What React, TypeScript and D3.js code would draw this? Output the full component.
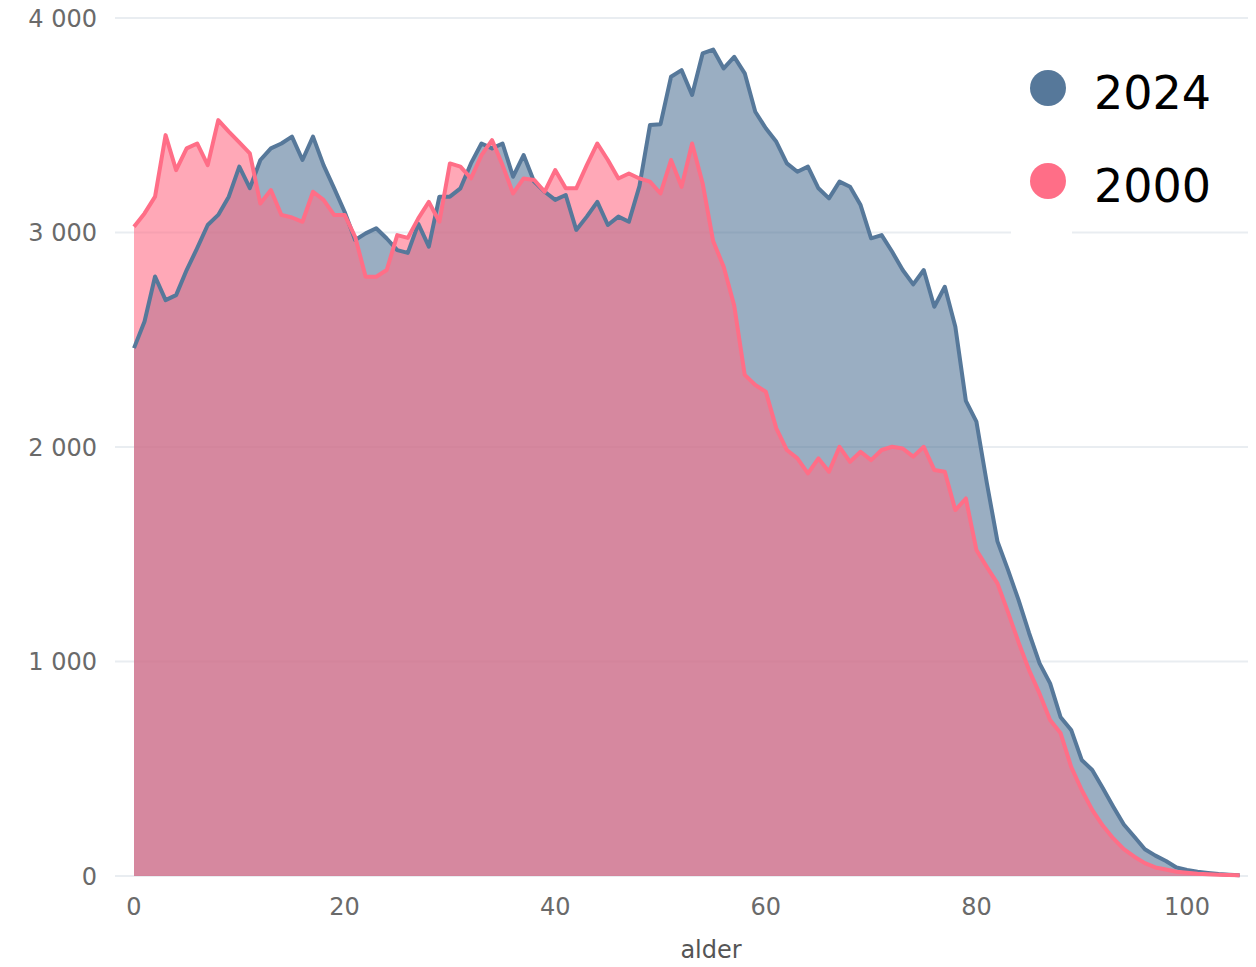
import React from "react";
import * as d3 from "d3";

// population by age (alder)
const pop2024 = [
  2461, 2585, 2795, 2685, 2708, 2825, 2927, 3035, 3082, 3167,
  3307, 3207, 3338, 3392, 3415, 3447, 3338, 3447, 3314, 3207,
  3097, 2965, 2996, 3020, 2972, 2918, 2905, 3040, 2934, 3167,
  3167, 3206, 3322, 3415, 3392, 3415, 3260, 3361, 3237, 3190,
  3152, 3175, 3012, 3074, 3143, 3035, 3074, 3050, 3216, 3501,
  3505, 3726, 3757, 3641, 3835, 3853, 3765, 3819, 3742, 3563,
  3486, 3423, 3322, 3283, 3307, 3206, 3159, 3237, 3213, 3128,
  2973, 2988, 2910, 2825, 2758, 2825, 2654, 2747, 2561, 2215,
  2118, 1830, 1560, 1427, 1287, 1133, 991, 898, 740, 681,
  541, 494, 410, 323, 240, 183, 125, 95, 70, 40,
  28, 20, 14, 9, 6, 4,
];

const pop2000 = [
  3027, 3089, 3167, 3454, 3291, 3392, 3415, 3314, 3524, 3470,
  3420, 3369, 3135, 3198, 3082, 3070, 3050, 3190, 3152, 3082,
  3082, 2980, 2794, 2794, 2825, 2988, 2975, 3066, 3143, 3050,
  3322, 3307, 3252, 3361, 3431, 3314, 3182, 3252, 3245, 3190,
  3291, 3206, 3206, 3314, 3415, 3338, 3252, 3275, 3252, 3237,
  3182, 3338, 3213, 3415, 3230, 2960, 2840, 2660, 2336, 2289,
  2258, 2087, 1986, 1947, 1877, 1947, 1885, 2001, 1931, 1978,
  1939, 1986, 2001, 1993, 1955, 2001, 1893, 1885, 1706, 1760,
  1520, 1440, 1364, 1230, 1090, 960, 850, 727, 665, 509,
  401, 308, 235, 175, 125, 90, 60, 40, 30, 20,
  15, 10, 8, 6, 5, 4,
];

const seriesNames = ["2024", "2000"];
const colors = ["#56789a", "#ff6e87"];
const yTicks = [0, 1000, 2000, 3000, 4000];
const xTicks = [0, 20, 40, 60, 80, 100];
const xLabel = "alder";

const width = 1256;
const height = 967;
const font = "'DejaVu Sans', sans-serif";

const App: React.FC = () => {
  const x = d3.scaleLinear().domain([0, 100]).range([134, 1187]);
  const y = d3.scaleLinear().domain([0, 4000]).range([876, 18]);
  const fmt = (v: number) => d3.format(",")(v).replace(/,/g, " ");

  const series = [pop2024, pop2000].map(vals =>
    vals.map((v, i) => ({ age: i, value: v }))
  );

  const area = d3
    .area<{ age: number; value: number }>()
    .x(d => x(d.age))
    .y0(y(0))
    .y1(d => y(d.value));
  const line = d3
    .line<{ age: number; value: number }>()
    .x(d => x(d.age))
    .y(d => y(d.value));

  return (
    <svg
      width={width}
      height={height}
      style={{ position: "absolute", left: 0, top: 0, background: "#fff" }}
    >
      {/* grid */}
      {yTicks.map(t => (
        <line
          key={t}
          x1={115}
          x2={1248}
          y1={y(t)}
          y2={y(t)}
          stroke="#e9edf1"
          strokeWidth={2}
        />
      ))}
      {yTicks.map(t => (
        <text
          key={"yl" + t}
          x={97}
          y={y(t)}
          dy="0.36em"
          textAnchor="end"
          fontFamily={font}
          fontSize={24}
          fill="#6a6a6a"
        >
          {fmt(t)}
        </text>
      ))}
      {xTicks.map(t => (
        <text
          key={"xl" + t}
          x={x(t)}
          y={915}
          textAnchor="middle"
          fontFamily={font}
          fontSize={24}
          fill="#6a6a6a"
        >
          {t}
        </text>
      ))}
      <text
        x={711}
        y={958}
        textAnchor="middle"
        fontFamily={font}
        fontSize={24}
        fill="#555"
      >
        {xLabel}
      </text>

      {/* areas first, then lines on top */}
      {series.map((s, i) => (
        <path
          key={"a" + seriesNames[i]}
          d={area(s) || ""}
          fill={colors[i]}
          fillOpacity={0.6}
        />
      ))}
      {series.map((s, i) => (
        <path
          key={"l" + seriesNames[i]}
          d={line(s) || ""}
          fill="none"
          stroke={colors[i]}
          strokeWidth={4}
          strokeLinejoin="round"
        />
      ))}

      {/* legend */}
      <rect x={1011} y={45} width={61} height={189} fill="#fff" />
      {seriesNames.map((name, i) => (
        <g key={"lg" + name} transform={`translate(1048, ${88 + i * 93})`}>
          <circle r={18} fill={colors[i]} />
          <text
            x={46}
            y={4}
            dy="0.36em"
            fontFamily={font}
            fontSize={46}
            fill="#000"
          >
            {name}
          </text>
        </g>
      ))}
    </svg>
  );
};

export default App;
